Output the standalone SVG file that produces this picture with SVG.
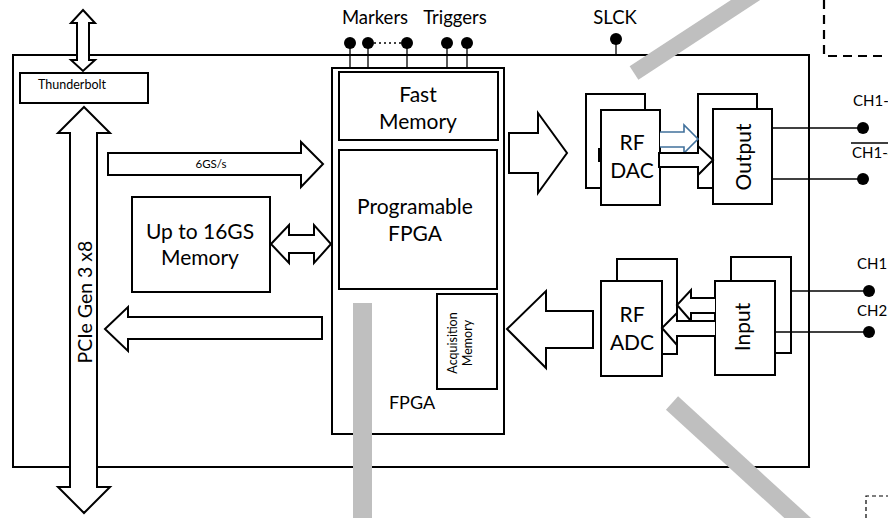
<svg xmlns="http://www.w3.org/2000/svg" width="888" height="518" viewBox="0 0 888 518">
<style>
  .box { fill: #fff; stroke: #000; stroke-width: 2; }
  .arr { fill: #fff; stroke: #000; stroke-width: 2; stroke-linejoin: miter; }
  .blue { fill: #fff; stroke: #41719c; stroke-width: 1.6; }
  .thin { fill: none; stroke: #000; stroke-width: 1.3; }
  .dot { fill: #000; }
  .grey { stroke: #bfbfbf; fill: none; }
  text { font-family: Lato, "Liberation Sans", sans-serif; fill: #000; }
  .t21 { font-size: 21px; text-anchor: middle; }
  .t18 { font-size: 18.5px; text-anchor: middle; }
  .t15 { font-size: 15px; }
  .t10 { font-size: 11.5px; text-anchor: middle; }
</style>

<!-- dashed boxes outside -->
<g id="dashed-top-right">
  <path d="M824,0 V56 H888" fill="none" stroke="#000" stroke-width="2.2" stroke-dasharray="9,6"/>
</g>
<g id="dashed-bottom-right">
  <path d="M866,518 V496 H888" fill="none" stroke="#000" stroke-width="1.2" stroke-dasharray="4,3"/>
</g>

<!-- main enclosure -->
<g id="main-box">
  <rect x="13" y="55" width="796" height="412" fill="#fff" stroke="#000" stroke-width="2"/>
</g>

<!-- top pins -->
<g id="markers">
  <text class="t18" x="375" y="24">Markers</text>
  <line class="thin" x1="350" y1="43" x2="350" y2="68"/>
  <line class="thin" x1="368" y1="43" x2="368" y2="68"/>
  <line class="thin" x1="407" y1="43" x2="407" y2="68"/>
  <line x1="374" y1="43" x2="402" y2="43" stroke="#000" stroke-width="1.5" stroke-dasharray="2,3"/>
  <circle class="dot" cx="350" cy="43" r="6"/>
  <circle class="dot" cx="368" cy="43" r="6"/>
  <circle class="dot" cx="407" cy="43" r="6"/>
</g>
<g id="triggers">
  <text class="t18" x="455" y="24">Triggers</text>
  <line class="thin" x1="447" y1="43" x2="447" y2="68"/>
  <line class="thin" x1="467" y1="43" x2="467" y2="68"/>
  <circle class="dot" cx="447" cy="43" r="6"/>
  <circle class="dot" cx="467" cy="43" r="6"/>
</g>
<g id="slck">
  <text class="t18" x="615" y="24">SLCK</text>
  <line class="thin" x1="616" y1="39" x2="616" y2="55"/>
  <circle class="dot" cx="616" cy="39" r="6"/>
</g>

<!-- Thunderbolt -->
<g id="thunderbolt">
  <rect class="box" x="20" y="73" width="128" height="30"/>
  <text x="72" y="89" font-size="12.5" text-anchor="middle">Thunderbolt</text>
</g>

<!-- Memory -->
<g id="memory">
  <rect class="box" x="132" y="197" width="138" height="95"/>
  <text class="t21" x="200" y="239">Up to 16GS</text>
  <text class="t21" x="200" y="265">Memory</text>
</g>

<!-- FPGA -->
<g id="fpga">
  <rect class="box" x="332" y="68" width="172" height="366"/>
  <text x="412" y="409" font-size="18" text-anchor="middle">FPGA</text>
</g>
<g id="fast-memory">
  <rect class="box" x="339" y="72" width="159" height="68"/>
  <text class="t21" x="418" y="102">Fast</text>
  <text class="t21" x="418" y="129">Memory</text>
</g>
<g id="programable-fpga">
  <rect class="box" x="339" y="150" width="158" height="139"/>
  <text class="t21" x="415" y="214">Programable</text>
  <text class="t21" x="415" y="241">FPGA</text>
</g>
<g id="acquisition-memory">
  <rect class="box" x="437" y="294" width="60" height="95"/>
  <text transform="translate(457,343) rotate(-90)" font-size="12.5" text-anchor="middle">Acquisition</text>
  <text transform="translate(472,343) rotate(-90)" font-size="12.5" text-anchor="middle">Memory</text>
</g>

<!-- RF DAC -->
<g id="rf-dac">
  <rect class="box" x="586" y="94" width="59" height="94"/>
  <rect class="box" x="601" y="110" width="59" height="95"/>
  <rect x="598" y="148" width="4" height="14" fill="#000"/>
  <text class="t21" x="632" y="150">RF</text>
  <text class="t21" x="632" y="178">DAC</text>
</g>

<!-- Output -->
<g id="output">
  <rect class="box" x="698" y="94" width="59" height="94"/>
  <rect class="box" x="713" y="109" width="59" height="95"/>
  <text transform="translate(751,157) rotate(-90)" class="t21">Output</text>
</g>

<!-- RF ADC -->
<g id="rf-adc">
  <rect class="box" x="617" y="259" width="60" height="95"/>
  <rect class="box" x="601" y="281" width="61" height="95"/>
  <text class="t21" x="632" y="322">RF</text>
  <text class="t21" x="632" y="350">ADC</text>
</g>

<!-- Input -->
<g id="input">
  <rect class="box" x="731" y="257" width="60" height="96"/>
  <rect class="box" x="715" y="281" width="60" height="94"/>
  <text transform="translate(750,327) rotate(-90)" class="t21">Input</text>
</g>

<!-- channel labels -->
<g id="ch-labels">
  <text class="t15" x="853" y="106">CH1-4</text>
  <text class="t15" x="852" y="158">CH1-4</text>
  <line x1="851" y1="143" x2="888" y2="143" stroke="#000" stroke-width="1.3"/>
  <text class="t15" x="857" y="269">CH1</text>
  <text class="t15" x="857" y="316">CH2</text>
  <circle class="dot" cx="863" cy="128" r="6"/>
  <circle class="dot" cx="863" cy="179" r="6"/>
  <circle class="dot" cx="869" cy="291" r="6"/>
  <circle class="dot" cx="869" cy="332" r="6"/>
</g>

<!-- connectors -->
<g id="connectors">
  <path class="arr" d="M83,10 L95,23 L89,23 L89,60 L95,60 L83,71 L71,60 L77,60 L77,23 L71,23 Z"/>
  <path class="arr" d="M84,107 L110,133 L97,133 L97,487 L110,487 L84,513 L58,487 L70,487 L70,133 L58,133 Z"/>
  <text transform="translate(92,302) rotate(-90)" font-size="19.5" text-anchor="middle">PCIe Gen 3 x8</text>
  <path class="arr" d="M108,153 L301,153 L301,142 L323,164 L301,187 L301,175 L108,175 Z"/>
  <text class="t10" x="211" y="168">6GS/s</text>
  <path class="arr" d="M271,244 L289,225 L289,235 L314,235 L314,225 L331,244 L314,263 L314,253 L289,253 L289,263 Z"/>
  <path class="arr" d="M105,329 L128,307 L128,317 L322,317 L322,339 L128,339 L128,351 Z"/>
  <path class="arr" d="M509,133 L538,133 L538,113 L567,153 L538,193 L538,173 L509,173 Z"/>
  <path class="arr" d="M507,329 L546,291 L546,311 L593,311 L593,348 L546,348 L546,368 Z"/>
  <path class="blue" d="M660,132 L684,132 L684,125 L698,139 L684,153 L684,147 L660,147"/>
  <path class="arr" d="M659,153 L698,153 L698,146 L713,160 L698,175 L698,167 L659,167 Z"/>
  <path class="arr" d="M715,298 L691,298 L691,290 L677,305 L691,321 L691,313 L715,313"/>
  <path class="arr" d="M715,321 L677,321 L677,313 L662,328 L677,345 L677,336 L715,336"/>
  <line class="thin" x1="772" y1="128" x2="863" y2="128"/>
  <line class="thin" x1="772" y1="179" x2="863" y2="179"/>
  <line class="thin" x1="791" y1="291" x2="869" y2="291"/>
  <line class="thin" x1="775" y1="332" x2="869" y2="332"/>
</g>

<!-- grey overlay bars -->
<g id="grey-bars">
  <line class="grey" x1="634" y1="73" x2="770" y2="-16" stroke-width="16"/>
  <rect x="353" y="303" width="19" height="215" fill="#bfbfbf"/>
  <line class="grey" x1="672" y1="403" x2="825" y2="543" stroke-width="18"/>
</g>
</svg>
